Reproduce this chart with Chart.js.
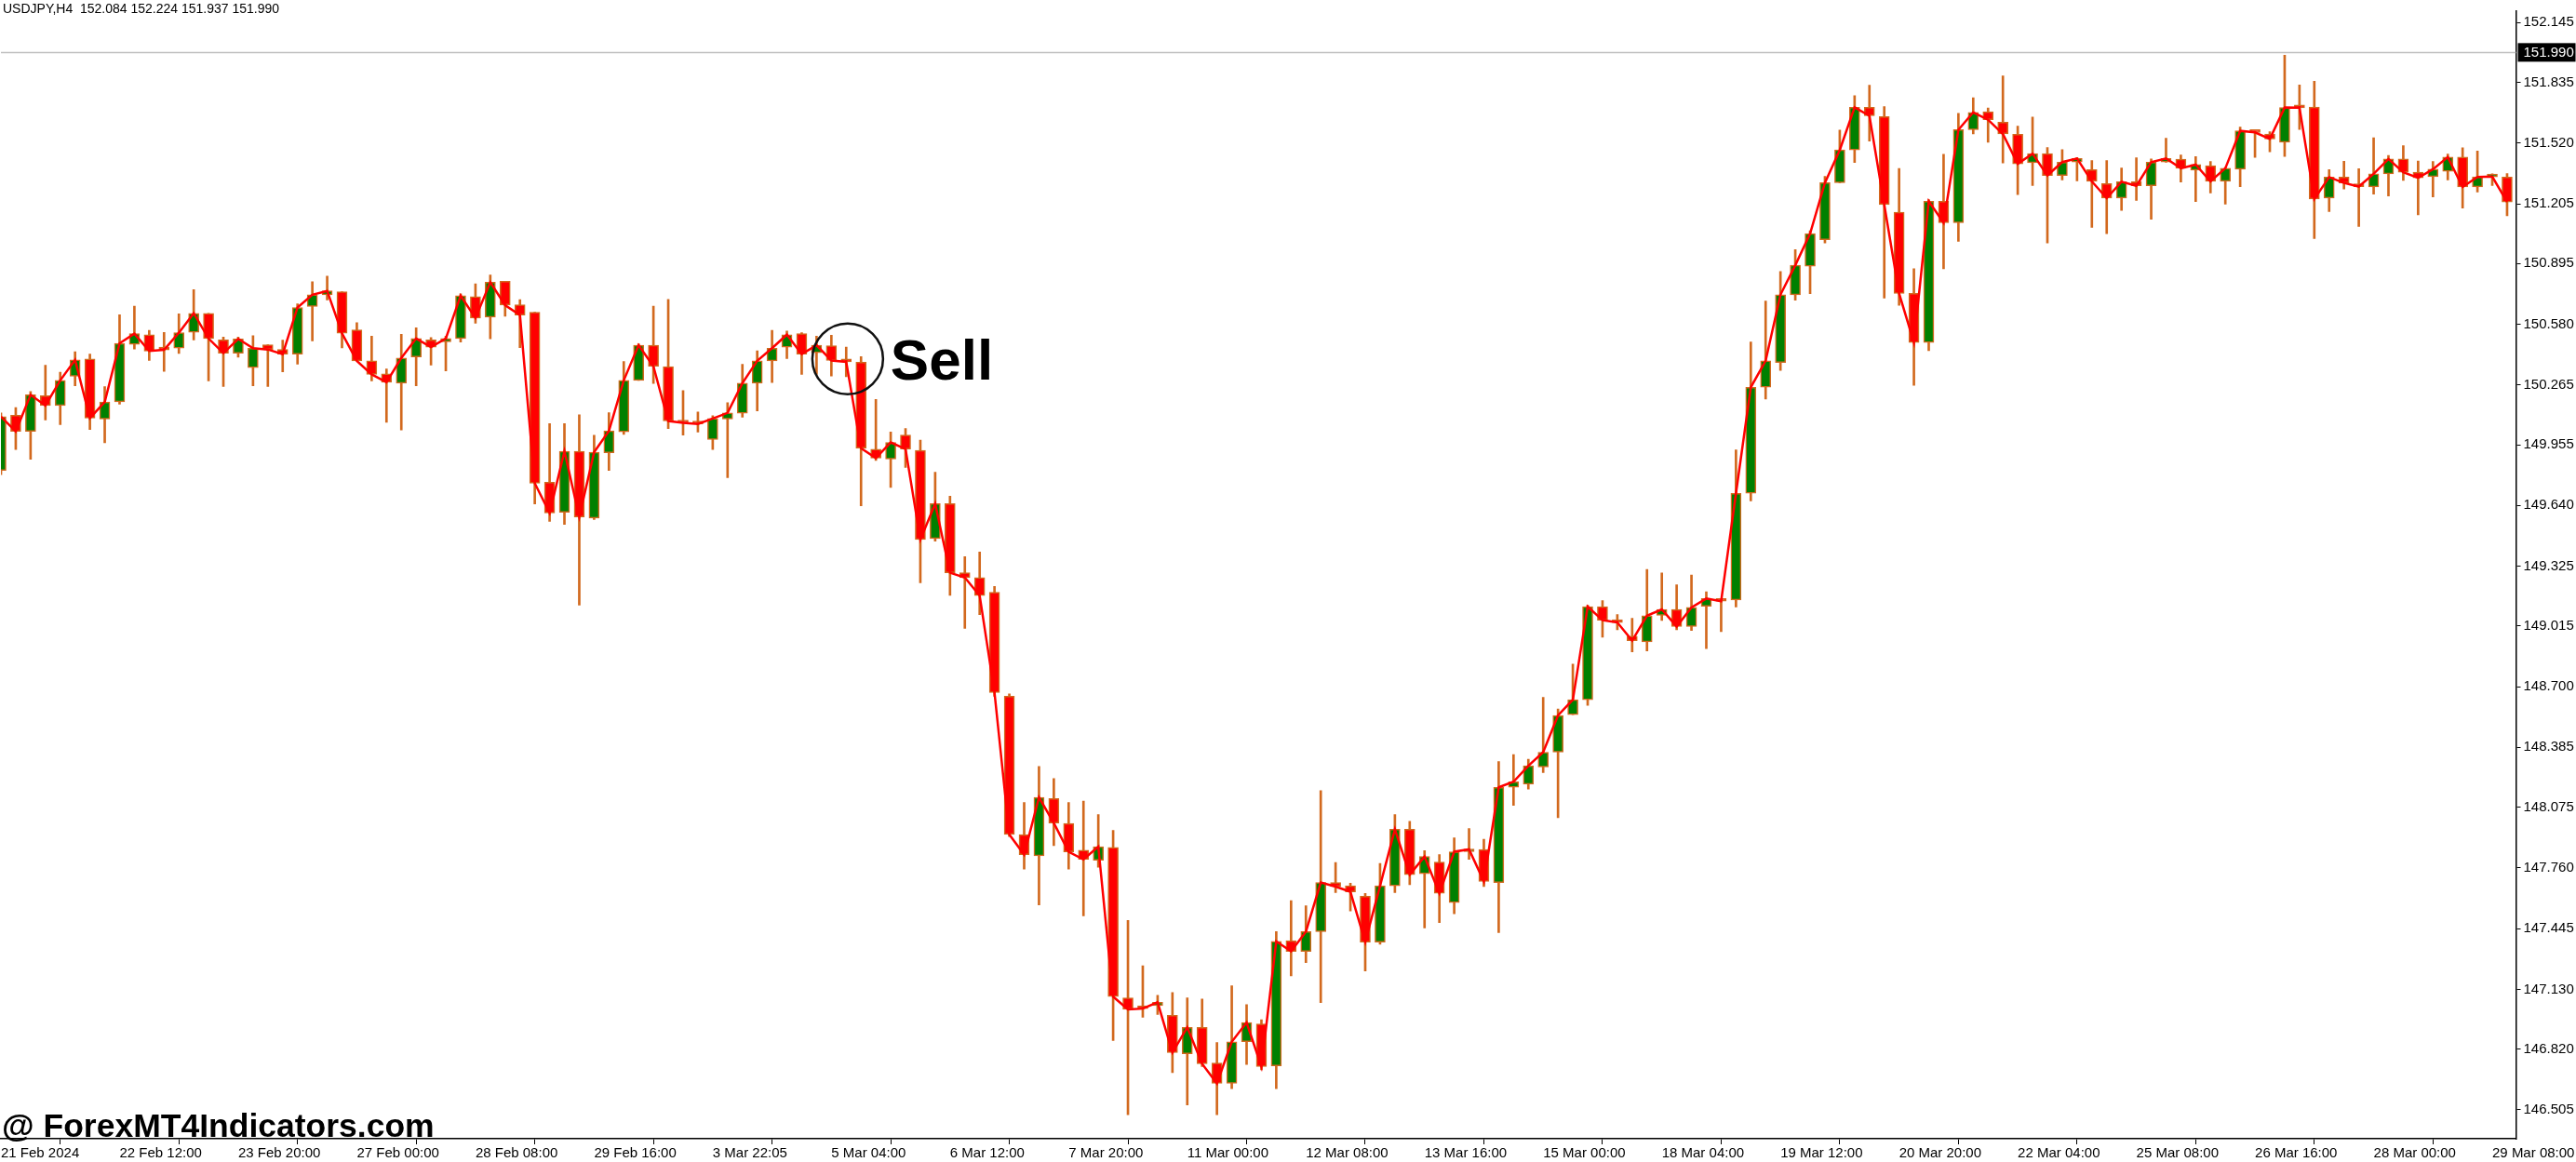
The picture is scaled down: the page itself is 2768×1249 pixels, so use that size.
<!DOCTYPE html>
<html>
<head>
<meta charset="utf-8">
<script src="https://cdn.jsdelivr.net/npm/chart.js@4.4.1/dist/chart.umd.min.js"></script>
<style>
  html, body { margin: 0; padding: 0; background: #fff; overflow: hidden; }
  #wrap { width: 2768px; height: 1249px; }
</style>
</head>
<body>
<div id="wrap"><canvas id="fxChart" width="2768" height="1249"></canvas></div>
<script>
// USDJPY H4 candles
const opens = [
  149.821, 150.108, 150.024, 150.209, 150.158, 150.310, 150.400, 150.088, 150.177, 150.476,
  150.526, 150.454, 150.456, 150.538, 150.637, 150.499, 150.430, 150.355, 150.474, 150.449,
  150.425, 150.672, 150.733, 150.748, 150.551, 150.390, 150.323, 150.274, 150.410, 150.499,
  150.489, 150.506, 150.723, 150.617, 150.803, 150.681, 150.642, 149.760, 149.604, 149.921,
  149.574, 149.913, 150.022, 150.289, 150.471, 150.360, 150.081, 150.071, 149.982, 150.088,
  150.118, 150.274, 150.390, 150.461, 150.531, 150.432, 150.469, 150.392, 150.383, 149.932,
  149.881, 150.005, 149.926, 149.468, 149.649, 149.291, 149.266, 149.190, 148.651, 147.933,
  147.823, 148.120, 147.991, 147.852, 147.800, 147.866, 147.086, 147.045, 147.045, 146.995,
  146.796, 146.933, 146.748, 146.642, 146.858, 146.951, 146.733, 147.383, 147.327, 147.429,
  147.684, 147.667, 147.613, 147.375, 147.667, 147.960, 147.729, 147.790, 147.580, 147.844,
  147.856, 147.684, 148.178, 148.194, 148.283, 148.360, 148.555, 148.632, 149.115, 149.037,
  148.962, 148.933, 149.070, 149.101, 149.012, 149.117, 149.147, 149.150, 149.703, 150.253,
  150.382, 150.733, 150.881, 151.019, 151.314, 151.484, 151.705, 151.657, 151.161, 150.740,
  150.485, 151.218, 151.106, 151.589, 151.683, 151.628, 151.565, 151.418, 151.465, 151.352,
  151.421, 151.382, 151.310, 151.234, 151.319, 151.298, 151.421, 151.436, 151.379, 151.403,
  151.321, 151.384, 151.578, 151.566, 151.524, 151.705, 151.707, 151.234, 151.343, 151.302,
  151.292, 151.360, 151.437, 151.369, 151.345, 151.373, 151.447, 151.292, 151.344, 151.343
];
const highs = [
  150.120, 150.148, 150.231, 150.367, 150.331, 150.437, 150.425, 150.256, 150.629, 150.674,
  150.548, 150.538, 150.634, 150.760, 150.637, 150.513, 150.513, 150.521, 150.474, 150.498,
  150.686, 150.800, 150.830, 150.748, 150.588, 150.518, 150.348, 150.528, 150.562, 150.511,
  150.518, 150.738, 150.790, 150.835, 150.803, 150.708, 150.642, 150.064, 150.064, 150.110,
  150.004, 150.121, 150.387, 150.478, 150.674, 150.709, 150.236, 150.125, 150.105, 150.173,
  150.372, 150.442, 150.548, 150.545, 150.536, 150.518, 150.523, 150.462, 150.412, 150.190,
  150.021, 150.039, 149.979, 149.812, 149.688, 149.374, 149.399, 149.220, 148.663, 148.099,
  148.286, 148.223, 148.099, 148.107, 148.036, 147.955, 147.487, 147.252, 147.099, 147.113,
  147.086, 147.080, 146.854, 147.148, 147.051, 146.972, 147.429, 147.590, 147.563, 148.161,
  147.788, 147.680, 147.628, 147.783, 148.036, 148.001, 147.850, 147.829, 147.916, 147.964,
  147.908, 148.311, 148.348, 148.323, 148.645, 148.584, 148.817, 149.122, 149.147, 149.074,
  149.055, 149.308, 149.290, 149.228, 149.279, 149.192, 149.147, 149.928, 150.488, 150.700,
  150.853, 150.967, 151.065, 151.347, 151.587, 151.766, 151.820, 151.709, 151.388, 150.868,
  151.226, 151.462, 151.674, 151.755, 151.702, 151.868, 151.608, 151.655, 151.497, 151.486,
  151.445, 151.429, 151.429, 151.391, 151.444, 151.437, 151.545, 151.458, 151.450, 151.424,
  151.394, 151.603, 151.581, 151.579, 151.975, 151.821, 151.840, 151.382, 151.426, 151.387,
  151.547, 151.455, 151.506, 151.427, 151.424, 151.463, 151.495, 151.479, 151.360, 151.361
];
const lows = [
  149.800, 149.930, 149.879, 150.084, 150.059, 150.261, 150.034, 149.965, 150.165, 150.451,
  150.392, 150.336, 150.429, 150.499, 150.286, 150.257, 150.409, 150.261, 150.257, 150.333,
  150.373, 150.494, 150.706, 150.457, 150.390, 150.286, 150.071, 150.031, 150.261, 150.368,
  150.338, 150.488, 150.585, 150.504, 150.622, 150.459, 149.648, 149.557, 149.542, 149.123,
  149.567, 149.822, 150.009, 150.289, 150.273, 150.039, 150.005, 150.021, 149.930, 149.784,
  150.098, 150.131, 150.278, 150.402, 150.320, 150.320, 150.311, 150.308, 149.638, 149.874,
  149.733, 149.837, 149.239, 149.455, 149.174, 149.002, 149.073, 148.650, 147.922, 147.754,
  147.568, 147.875, 147.754, 147.511, 147.763, 146.864, 146.480, 146.985, 147.000, 146.698,
  146.530, 146.729, 146.480, 146.615, 146.740, 146.713, 146.615, 147.200, 147.269, 147.061,
  147.632, 147.536, 147.225, 147.364, 147.632, 147.673, 147.449, 147.476, 147.522, 147.804,
  147.663, 147.424, 148.084, 148.169, 148.254, 148.020, 148.555, 148.603, 148.956, 148.995,
  148.881, 148.885, 149.043, 148.995, 148.991, 148.898, 148.985, 149.113, 149.663, 150.192,
  150.340, 150.705, 150.738, 151.001, 151.314, 151.419, 151.530, 150.716, 150.678, 150.263,
  150.443, 150.868, 151.010, 151.567, 151.524, 151.416, 151.253, 151.300, 151.001, 151.329,
  151.324, 151.082, 151.050, 151.171, 151.222, 151.124, 151.420, 151.318, 151.216, 151.261,
  151.203, 151.294, 151.446, 151.474, 151.450, 151.590, 151.024, 151.164, 151.282, 151.087,
  151.255, 151.245, 151.326, 151.147, 151.240, 151.329, 151.182, 151.266, 151.300, 151.143
];
const closes = [
  150.101, 150.024, 150.214, 150.158, 150.289, 150.395, 150.093, 150.177, 150.481, 150.531,
  150.441, 150.447, 150.536, 150.637, 150.506, 150.430, 150.504, 150.456, 150.449, 150.425,
  150.667, 150.733, 150.753, 150.533, 150.390, 150.320, 150.279, 150.405, 150.506, 150.461,
  150.506, 150.728, 150.612, 150.798, 150.679, 150.627, 149.755, 149.601, 149.921, 149.580,
  149.916, 150.027, 150.289, 150.471, 150.362, 150.078, 150.068, 150.063, 150.091, 150.120,
  150.274, 150.390, 150.456, 150.526, 150.425, 150.471, 150.392, 150.385, 149.937, 149.886,
  149.967, 149.933, 149.463, 149.649, 149.291, 149.266, 149.172, 148.670, 147.933, 147.829,
  148.126, 147.993, 147.843, 147.804, 147.870, 147.092, 147.026, 147.030, 147.063, 146.802,
  146.933, 146.744, 146.642, 146.858, 146.958, 146.729, 147.379, 147.327, 147.429, 147.684,
  147.663, 147.636, 147.375, 147.667, 147.960, 147.725, 147.819, 147.628, 147.844, 147.856,
  147.690, 148.178, 148.207, 148.290, 148.360, 148.551, 148.632, 149.115, 149.045, 149.033,
  148.939, 149.068, 149.101, 149.012, 149.111, 149.157, 149.143, 149.703, 150.253, 150.390,
  150.733, 150.886, 151.050, 151.314, 151.484, 151.705, 151.661, 151.200, 150.740, 150.485,
  151.218, 151.106, 151.589, 151.679, 151.641, 151.567, 151.412, 151.465, 151.352, 151.421,
  151.440, 151.321, 151.234, 151.319, 151.298, 151.421, 151.440, 151.389, 151.408, 151.321,
  151.389, 151.583, 151.575, 151.541, 151.704, 151.703, 151.229, 151.343, 151.313, 151.294,
  151.360, 151.437, 151.368, 151.339, 151.384, 151.447, 151.292, 151.344, 151.346, 151.214
];

const dateLabels = [
  '21 Feb 2024', '22 Feb 12:00', '23 Feb 20:00', '27 Feb 00:00', '28 Feb 08:00', '29 Feb 16:00',
  '3 Mar 22:05', '5 Mar 04:00', '6 Mar 12:00', '7 Mar 20:00', '11 Mar 00:00', '12 Mar 08:00',
  '13 Mar 16:00', '15 Mar 00:00', '18 Mar 04:00', '19 Mar 12:00', '20 Mar 20:00', '22 Mar 04:00',
  '25 Mar 08:00', '26 Mar 16:00', '28 Mar 00:00', '29 Mar 08:00'
];
const dateTickIdx = [0, 8, 16, 24, 32, 40, 48, 56, 64, 72, 80, 88, 96, 104, 112, 120, 128, 136, 144, 152, 160, 168];
const priceTicks = [
  152.145, 151.835, 151.520, 151.205, 150.895, 150.580, 150.265, 149.955, 149.640, 149.325,
  149.015, 148.700, 148.385, 148.075, 147.760, 147.445, 147.130, 146.820, 146.505
];

const headerText = 'USDJPY,H4  152.084 152.224 151.937 151.990';
const lastPrice = 151.990;
const sellMark = { idx: 57.1, price: 150.40 };

const UP = '#008000';
const DOWN = '#ff0000';
const EDGE = '#d2691e';

const wickData = opens.map((o, i) => ({ x: i, y: [lows[i], highs[i]] }));
const bodyData = opens.map((o, i) => ({ x: i, y: [o, closes[i]] }));
const bodyColors = opens.map((o, i) => closes[i] >= o ? UP : DOWN);
const lineData = closes.map((c, i) => ({ x: i, y: c }));

const overlay = {
  id: 'overlay',
  beforeDatasetsDraw(chart) {
    const { ctx, chartArea, scales } = chart;
    const y = Math.round(scales.y.getPixelForValue(lastPrice)) + 0.5;
    ctx.save();
    ctx.strokeStyle = '#c0c0c0';
    ctx.lineWidth = 1.5;
    ctx.beginPath();
    ctx.moveTo(chartArea.left, y);
    ctx.lineTo(chartArea.right, y);
    ctx.stroke();
    ctx.restore();
  },
  afterDraw(chart) {
    const { ctx, chartArea, scales } = chart;
    ctx.save();
    // header
    ctx.fillStyle = '#000';
    ctx.font = '14px "Liberation Sans", Arial, sans-serif';
    ctx.textBaseline = 'middle';
    ctx.textAlign = 'left';
    ctx.fillText(headerText, 3, 10);

    // last price box on axis
    const py = scales.y.getPixelForValue(lastPrice);
    ctx.font = '15px "Liberation Sans", Arial, sans-serif';
    ctx.fillStyle = '#000';
    ctx.fillRect(chartArea.right + 2, py - 10, 62, 20);
    ctx.fillStyle = '#fff';
    ctx.fillText(lastPrice.toFixed(3), chartArea.right + 8, py + 1);

    // sell marker
    const cx = scales.x.getPixelForValue(sellMark.idx);
    const cy = scales.y.getPixelForValue(sellMark.price);
    ctx.strokeStyle = '#111';
    ctx.lineWidth = 2.5;
    ctx.beginPath();
    ctx.arc(cx, cy, 38, 0, Math.PI * 2);
    ctx.stroke();
    ctx.fillStyle = '#000';
    ctx.font = 'bold 62px "Liberation Sans", Arial, sans-serif';
    ctx.textBaseline = 'middle';
    ctx.fillText('Sell', cx + 46, cy + 5);

    // watermark
    ctx.font = 'bold 35.5px "Liberation Sans", Arial, sans-serif';
    ctx.textBaseline = 'alphabetic';
    ctx.fillText('@ ForexMT4Indicators.com', 2, 1222);
    ctx.restore();
  }
};

const ctx = document.getElementById('fxChart').getContext('2d');
const chart = new Chart(ctx, {
  data: {
    datasets: [
      {
        type: 'bar',
        data: wickData,
        backgroundColor: EDGE,
        borderWidth: 0,
        barThickness: 2,
        grouped: false,
        order: 3
      },
      {
        type: 'bar',
        data: bodyData,
        backgroundColor: bodyColors,
        borderColor: EDGE,
        borderWidth: 1.5,
        borderSkipped: false,
        barThickness: 11,
        minBarLength: 3,
        grouped: false,
        order: 2
      },
      {
        type: 'line',
        data: lineData,
        borderColor: '#ff0000',
        borderWidth: 2.5,
        pointRadius: 0,
        tension: 0,
        order: 1
      }
    ]
  },
  options: {
    responsive: false,
    animation: false,
    devicePixelRatio: 1,
    layout: { padding: 0 },
    plugins: { legend: { display: false }, tooltip: { enabled: false } },
    scales: {
      x: {
        type: 'linear',
        min: 0,
        max: 169.6,
        offset: false,
        grid: { drawOnChartArea: false, color: '#000', tickLength: 6 },
        border: { color: '#000', width: 1.5 },
        afterBuildTicks: (scale) => { scale.ticks = dateTickIdx.map(v => ({ value: v })); },
        afterFit: (scale) => { scale.height = 25; },
        ticks: {
          autoSkip: false,
          maxRotation: 0,
          align: 'start',
          padding: 1,
          color: '#000',
          font: { family: '"Liberation Sans", Arial, sans-serif', size: 15 },
          callback: (v) => dateLabels[dateTickIdx.indexOf(v)]
        }
      },
      y: {
        position: 'right',
        min: 146.355,
        max: 152.204,
        grid: { drawOnChartArea: false, color: '#000', tickLength: 5 },
        border: { color: '#000', width: 1.5 },
        afterBuildTicks: (scale) => { scale.ticks = priceTicks.map(v => ({ value: v })); },
        afterFit: (scale) => { scale.width = 63; },
        ticks: {
          autoSkip: false,
          padding: 3,
          color: '#000',
          font: { family: '"Liberation Sans", Arial, sans-serif', size: 15 },
          callback: (v) => v.toFixed(3)
        }
      }
    }
  },
  plugins: [overlay]
});
</script>
</body>
</html>
